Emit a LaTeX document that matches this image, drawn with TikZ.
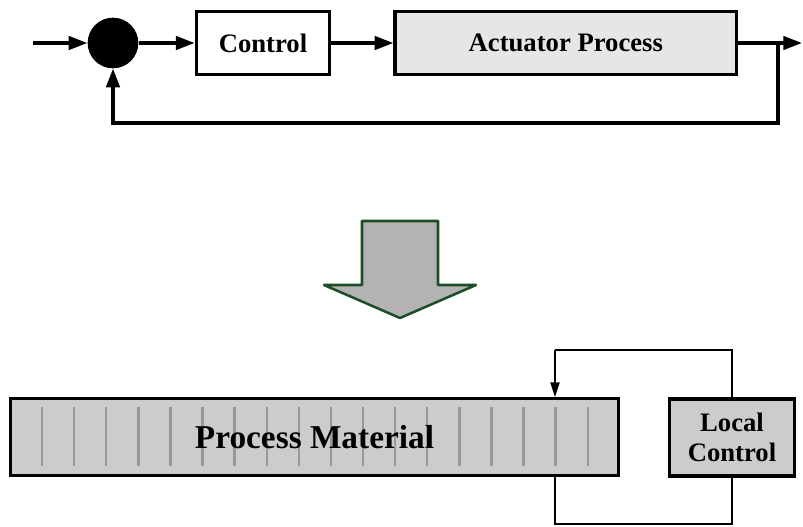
\documentclass[tikz,border=0pt]{standalone}
\usepackage{fontspec}
\setmainfont{Liberation Serif}
\usetikzlibrary{arrows.meta, positioning, calc}

\definecolor{actgray}{HTML}{E6E6E6}
\definecolor{matgray}{HTML}{CCCCCC}
\definecolor{stripegray}{HTML}{999999}
\definecolor{arrowgray}{HTML}{B3B3B3}
\definecolor{arrowgreen}{HTML}{1E4D28}

\begin{document}
\begin{tikzpicture}[
  x=0.75pt, y=-0.75pt,
  conn/.style   = {line width=2.5pt, -{Triangle[length=14pt,width=10pt]}},
  fbline/.style = {line width=1.2pt},
  block/.style  = {draw, line width=2.6pt, rectangle, inner sep=0pt,
                   font=\fontsize{20pt}{23pt}\selectfont\bfseries},
  sum/.style    = {circle, fill=black, minimum size=38pt, inner sep=0pt},
  stripe/.style = {stripegray, line width=1.8pt},
]
  \useasboundingbox (0,0) rectangle (803,527);

%--- Top: closed loop ---
  \node[coordinate]                             (in)   at (33,43) {};
  \node[sum]                                    (sum)  at (113,43) {};
  \node[block, right=42pt of sum, minimum width=100pt, minimum height=47pt]
                                                (ctrl) {Control};
  \node[block, fill=actgray, right=46.5pt of ctrl, minimum width=256pt, minimum height=47pt]
                                                (act)  {Actuator Process};
  \node[coordinate]                             (out)  at (802,43) {};
  \coordinate (br) at (778,43);

  \draw[conn] (in)   -- (sum);
  \draw[conn] (sum)  -- (ctrl);
  \draw[conn] (ctrl) -- (act);
  \draw[conn] (act)  -- (out);
  \draw[conn] (br) -- ++(0,80) -| (sum.south);

%--- Middle: big arrow ---
  \draw[line width=1.9pt, line join=round, draw=arrowgreen, fill=arrowgray]
    (362,221) -- (438,221) -- (438,285) -- (476,285) -- (400,318)
    -- (324,285) -- (362,285) -- cycle;

%--- Bottom: material with local control ---
  \node[block, fill=matgray, minimum width=456pt, minimum height=57.5pt]
                                                (mat)  at (314.5,437) {};
  \foreach \k in {0,...,17}
    \draw[stripe] (42+32.1*\k,407) -- (42+32.1*\k,466);
  \node[font=\fontsize{25pt}{29pt}\selectfont\bfseries]
                                                (matlbl) at (mat.center) {Process Material};
  \node[block, fill=matgray, minimum width=93.5pt, minimum height=58pt, align=center]
                                                (lc)   at (732,437.5) {Local\\Control};

  \coordinate (ltop) at (555,350);
  \coordinate (lbot) at (555,524);
  \draw[fbline] (lc.north) |- (ltop);
  \draw[fbline, -{Triangle[length=11pt,width=7pt]}] (ltop) -- (ltop |- mat.north);
  \draw[fbline] (mat.south -| lbot) -- (lbot) -| (lc.south);
\end{tikzpicture}
\end{document}
